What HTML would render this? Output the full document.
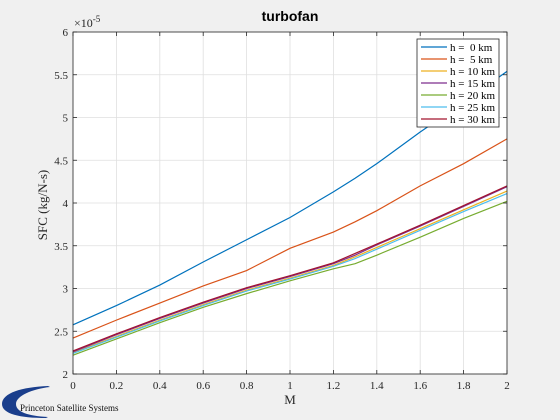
<!DOCTYPE html>
<html><head><meta charset="utf-8"><style>
html,body{margin:0;padding:0;background:#f0f0f0;}
svg{display:block;font-family:"Liberation Serif",serif;}
text{white-space:pre;}
</style></head><body>
<svg id="chart" width="560" height="420" viewBox="0 0 560 420" xmlns="http://www.w3.org/2000/svg">
<rect x="0" y="0" width="560" height="420" fill="#f0f0f0"/>
<rect x="73" y="32" width="434" height="342" fill="#fff"/>
<g id="grid"></g>
<g id="series"></g>
<rect x="73" y="32" width="434" height="342" fill="none" stroke="#262626" stroke-width="0.8"/>
<g id="ticks"></g>
<text x="290" y="21" text-anchor="middle" font-family="Liberation Sans, sans-serif" font-weight="bold" font-size="14" fill="#000">turbofan</text>
<text x="290" y="404" text-anchor="middle" font-size="13" fill="#262626">M</text>
<text transform="translate(47,205) rotate(-90)" text-anchor="middle" font-size="13" fill="#262626">SFC (kg/N-s)</text>
<text x="74" y="27" font-size="12" fill="#262626">×10<tspan dy="-5" font-size="9">-5</tspan></text>
<g id="legend"></g>
<g>
<path d="M2,404 C2,393 22,387 48,386 L50,387 C32,389 16,396 16,404 C16,412 28,416 48,417 L46,418 C20,418 2,414 2,404 Z" fill="#1a3e8c"/>
<text x="20" y="411" font-size="9" fill="#111">Princeton Satellite Systems</text>
</g>
</svg>
<script>
const M = [0,0.2,0.4,0.6,0.8,1.0,1.2,1.3,1.4,1.6,1.8,2.0];
const sfc0  = [2.575,2.80,3.04,3.31,3.57,3.83,4.13,4.29,4.46,4.83,5.18,5.54];
const sfc5  = [2.42,2.63,2.83,3.03,3.21,3.47,3.66,3.78,3.91,4.20,4.46,4.75];
const sfc10 = [2.25,2.44,2.63,2.81,2.98,3.12,3.27,3.37,3.48,3.70,3.92,4.14];
const sfc15 = [2.26,2.46,2.65,2.83,3.00,3.14,3.29,3.39,3.51,3.73,3.96,4.19];
const sfc20 = [2.22,2.41,2.60,2.78,2.94,3.09,3.23,3.29,3.39,3.60,3.82,4.02];
const sfc25 = [2.24,2.43,2.62,2.80,2.97,3.11,3.26,3.35,3.46,3.68,3.90,4.11];
const sfc30 = [2.27,2.47,2.66,2.84,3.01,3.15,3.30,3.41,3.52,3.74,3.97,4.20];
const seriesLabels = ["h =  0 km","h =  5 km","h = 10 km","h = 15 km","h = 20 km","h = 25 km","h = 30 km"];
const seriesColors = ["#0072bd","#d95319","#edb120","#7e2f8e","#77ac30","#4dbeee","#a2142f"];
const xTicks = [0,0.2,0.4,0.6,0.8,1,1.2,1.4,1.6,1.8,2];
const xTickLabels = ["0","0.2","0.4","0.6","0.8","1","1.2","1.4","1.6","1.8","2"];
const yTicks = [2,2.5,3,3.5,4,4.5,5,5.5,6];
const yTickLabels = ["2","2.5","3","3.5","4","4.5","5","5.5","6"];

const allSeries = [sfc0,sfc5,sfc10,sfc15,sfc20,sfc25,sfc30];
const NS="http://www.w3.org/2000/svg";
const L=73,R=507,T=32,B=374;
function xs(v){return L+(v-0)/(2-0)*(R-L);}
function ys(v){return B-(v-2)/(6-2)*(B-T);}
function mk(tag,attrs,parent){const e=document.createElementNS(NS,tag);for(const k in attrs)e.setAttribute(k,attrs[k]);parent.appendChild(e);return e;}
const grid=document.getElementById('grid'),ticks=document.getElementById('ticks'),sg=document.getElementById('series'),lg=document.getElementById('legend');
xTicks.forEach((t,i)=>{
  const x=xs(t);
  const g=mk('line',{x1:x,x2:x,y1:T,y2:B,stroke:'#dfdfdf','stroke-width':0.8},grid);
  
  
  const a=mk('line',{x1:x,x2:x,y1:B,y2:B-4,stroke:'#262626','stroke-width':0.8},ticks);
  
  
  const b=mk('line',{x1:x,x2:x,y1:T,y2:T+4,stroke:'#262626','stroke-width':0.8},ticks);
  
  
  const tx=mk('text',{x:x,y:389,'text-anchor':'middle','font-size':11,fill:'#262626'},ticks);
  tx.textContent=xTickLabels[i];
  
  
});
yTicks.forEach((t,i)=>{
  const y=ys(t);
  const g=mk('line',{x1:L,x2:R,y1:y,y2:y,stroke:'#dfdfdf','stroke-width':0.8},grid);
  
  
  const a=mk('line',{x1:L,x2:L+4,y1:y,y2:y,stroke:'#262626','stroke-width':0.8},ticks);
  
  
  const b=mk('line',{x1:R,x2:R-4,y1:y,y2:y,stroke:'#262626','stroke-width':0.8},ticks);
  
  
  const tx=mk('text',{x:68,y:y+4,'text-anchor':'end','font-size':11,fill:'#262626'},ticks);
  tx.textContent=yTickLabels[i];
  
  
});
allSeries.forEach((s,k)=>{
  const d=s.map((v,i)=>(i?'L':'M')+xs(M[i]).toFixed(2)+','+ys(v).toFixed(2)).join(' ');
  const p=mk('path',{d:d,fill:'none',stroke:seriesColors[k],'stroke-width':1.2},sg);
  
  
});
const lx=417,ly=39,lw=82,lh=88;
const box=mk('rect',{x:lx,y:ly,width:lw,height:lh,fill:'#fff',stroke:'#262626','stroke-width':0.8},lg);


seriesLabels.forEach((lab,k)=>{
  const y=ly+8+k*12;
  const ln=mk('line',{x1:lx+4,x2:lx+30,y1:y,y2:y,stroke:seriesColors[k],'stroke-width':1.2},lg);
  
  
  const t=mk('text',{x:lx+33,y:y+4,'font-size':11,fill:'#000'},lg);
  t.textContent=lab;
  
  
});
</script>
</body></html>
